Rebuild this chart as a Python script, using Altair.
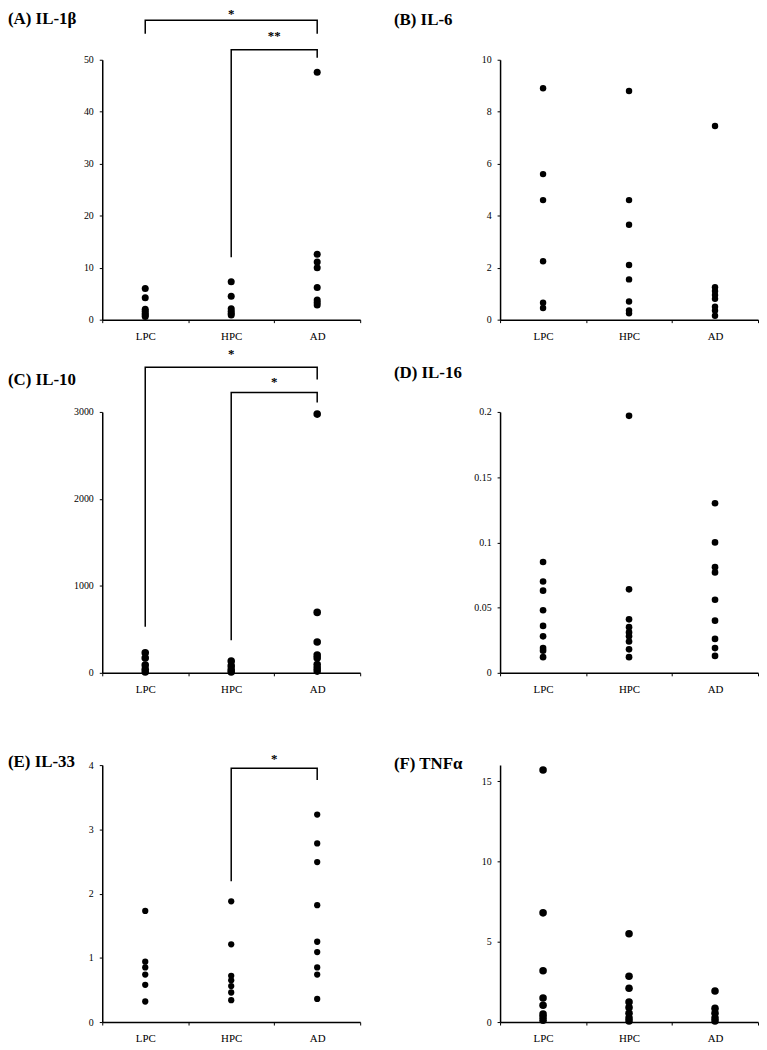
import altair as alt
import pandas as pd

CATS = ["LPC", "HPC", "AD"]
TITLES = ["(A) IL-1β", "(B) IL-6", "(C) IL-10", "(D) IL-16", "(E) IL-33", "(F) TNFα"]

# ---- values ----
il1b_lpc = [6.0, 4.2, 2.0, 1.6, 1.2, 0.9, 0.6]
il1b_hpc = [7.3, 4.5, 2.1, 1.6, 1.2, 0.9]
il1b_ad = [47.6, 12.6, 11.1, 10.0, 6.2, 3.8, 3.3, 2.8]

il6_lpc = [8.9, 5.6, 4.6, 2.25, 0.65, 0.45]
il6_hpc = [8.8, 4.6, 3.65, 2.1, 1.55, 0.7, 0.35, 0.25]
il6_ad = [7.45, 1.25, 1.1, 0.95, 0.8, 0.5, 0.35, 0.15]

il10_lpc = [230, 170, 90, 40, 10]
il10_hpc = [135, 80, 35, 10]
il10_ad = [2975, 695, 355, 205, 170, 95, 55, 20]

il16_lpc = [0.085, 0.070, 0.063, 0.048, 0.036, 0.028, 0.019, 0.017, 0.012]
il16_hpc = [0.197, 0.064, 0.041, 0.035, 0.031, 0.028, 0.024, 0.018, 0.012]
il16_ad = [0.130, 0.100, 0.081, 0.077, 0.056, 0.040, 0.026, 0.019, 0.013]

il33_lpc = [1.73, 0.94, 0.85, 0.74, 0.58, 0.32]
il33_hpc = [1.88, 1.21, 0.72, 0.65, 0.56, 0.46, 0.34]
il33_ad = [3.23, 2.78, 2.49, 1.82, 1.25, 1.09, 0.85, 0.74, 0.36]

tnf_lpc = [15.7, 6.8, 3.2, 1.5, 1.05, 0.5, 0.33, 0.12]
tnf_hpc = [5.5, 2.85, 2.1, 1.25, 0.9, 0.55, 0.25, 0.07]
tnf_ad = [1.93, 0.85, 0.55, 0.25, 0.07]

SERIES = [
    (il1b_lpc, il1b_hpc, il1b_ad),
    (il6_lpc, il6_hpc, il6_ad),
    (il10_lpc, il10_hpc, il10_ad),
    (il16_lpc, il16_hpc, il16_ad),
    (il33_lpc, il33_hpc, il33_ad),
    (tnf_lpc, tnf_hpc, tnf_ad),
]

Y_MAX = [50, 10, 3000, 0.2, 4, 16]
Y_TICKS = [
    [0, 10, 20, 30, 40, 50],
    [0, 2, 4, 6, 8, 10],
    [0, 1000, 2000, 3000],
    [0, 0.05, 0.1, 0.15, 0.2],
    [0, 1, 2, 3, 4],
    [0, 5, 10, 15],
]

# significance brackets (in data units of each panel)
brk_panel = [0, 0, 2, 2, 4]
brk_from = ["LPC", "HPC", "LPC", "HPC", "HPC"]
brk_to = ["AD", "AD", "AD", "AD", "AD"]
brk_level = [57.6, 51.9, 3514, 3224, 3.95]
brk_drop_from = [55.0, 12.0, 530, 375, 2.19]
brk_drop_to = [55.0, 50.4, 3374, 3108, 3.77]
brk_label = ["*", "**", "*", "*", "*"]
brk_label_y = [58.8, 54.6, 3660, 3340, 4.1]

# ---- styling ----
FONT = "Liberation Serif"
W = 260
ROW_H = [262, 263, 259]
DOT_SIZE = [50, 42, 58, 45, 40, 58]
TITLE_DX = [-95, -107, -95, -107, -95, -107]
TITLE_DY = [-41, -40, -32, -39, -3, -1]


def panel(i):
    lpc, hpc, ad = SERIES[i]
    groups = ["LPC"] * len(lpc) + ["HPC"] * len(hpc) + ["AD"] * len(ad)
    df = pd.DataFrame({"group": groups, "value": list(lpc) + list(hpc) + list(ad)})

    yscale = alt.Scale(domain=[0, Y_MAX[i]], nice=False, zero=True)
    yaxis = alt.Axis(
        values=Y_TICKS[i], labelExpr="datum.value + ''", title=None, grid=False,
        domainColor="black", domainWidth=1.5, tickColor="black", tickSize=3,
        tickWidth=1, labelFont=FONT, labelFontSize=10, labelColor="black",
        labelPadding=6,
    )
    xaxis = alt.Axis(
        title=None, labelAngle=0, tickBand="extent", grid=False,
        domainColor="black", domainWidth=1.5, tickColor="black", tickSize=3,
        tickWidth=1, labelFont=FONT, labelFontSize=11, labelColor="black",
        labelPadding=8,
    )

    pts = alt.Chart(df).mark_circle(size=DOT_SIZE[i], color="black", opacity=1).encode(
        x=alt.X("group:N", sort=CATS,
                scale=alt.Scale(domain=CATS, paddingInner=0, paddingOuter=0),
                axis=xaxis),
        y=alt.Y("value:Q", scale=yscale, axis=yaxis),
    )

    ttl = alt.Chart(pd.DataFrame({"t": [TITLES[i]]})).mark_text(
        font=FONT, fontSize=17, fontWeight="bold", color="black",
        align="left", baseline="middle",
    ).encode(text="t:N", x=alt.value(TITLE_DX[i]), y=alt.value(TITLE_DY[i]))

    layers = [pts, ttl]

    rows, lab = [], []
    for k, p in enumerate(brk_panel):
        if p != i:
            continue
        x1 = CATS.index(brk_from[k]) + 0.5
        x2 = CATS.index(brk_to[k]) + 0.5
        pts4 = [(x1, brk_drop_from[k]), (x1, brk_level[k]),
                (x2, brk_level[k]), (x2, brk_drop_to[k])]
        for o, (bx, by) in enumerate(pts4):
            rows.append({"bid": k, "ord": o, "bx": bx, "value": by})
        lab.append({"bx": (x1 + x2) / 2, "value": brk_label_y[k], "label": brk_label[k]})

    if rows:
        xq = alt.Scale(domain=[0, 3], nice=False, zero=False)
        bdf = pd.DataFrame(rows)
        ldf = pd.DataFrame(lab)
        lines = alt.Chart(bdf).mark_line(color="black", strokeWidth=1.5, clip=False).encode(
            x=alt.X("bx:Q", scale=xq, axis=None),
            y=alt.Y("value:Q", scale=yscale, axis=yaxis),
            detail="bid:N",
            order="ord:Q",
        )
        stars = alt.Chart(ldf).mark_text(
            font=FONT, fontSize=13, fontWeight="bold", color="black",
            baseline="middle", align="center",
        ).encode(
            x=alt.X("bx:Q", scale=xq, axis=None),
            y=alt.Y("value:Q", scale=yscale, axis=yaxis),
            text="label:N",
        )
        layers += [lines, stars]

    ch = alt.layer(*layers)
    if rows:
        ch = ch.resolve_scale(x="independent")
    return ch.properties(width=W, height=ROW_H[i // 2])


chart = alt.concat(
    *[panel(i) for i in range(6)],
    columns=2,
    spacing={"row": 93, "column": 141},
    bounds="flush",
).properties(
    padding={"top": -5, "left": 0, "right": 0, "bottom": 0}, background="white"
).configure_view(stroke=None)

chart.save("out.html", embed_options={"renderer": "svg", "actions": False})
